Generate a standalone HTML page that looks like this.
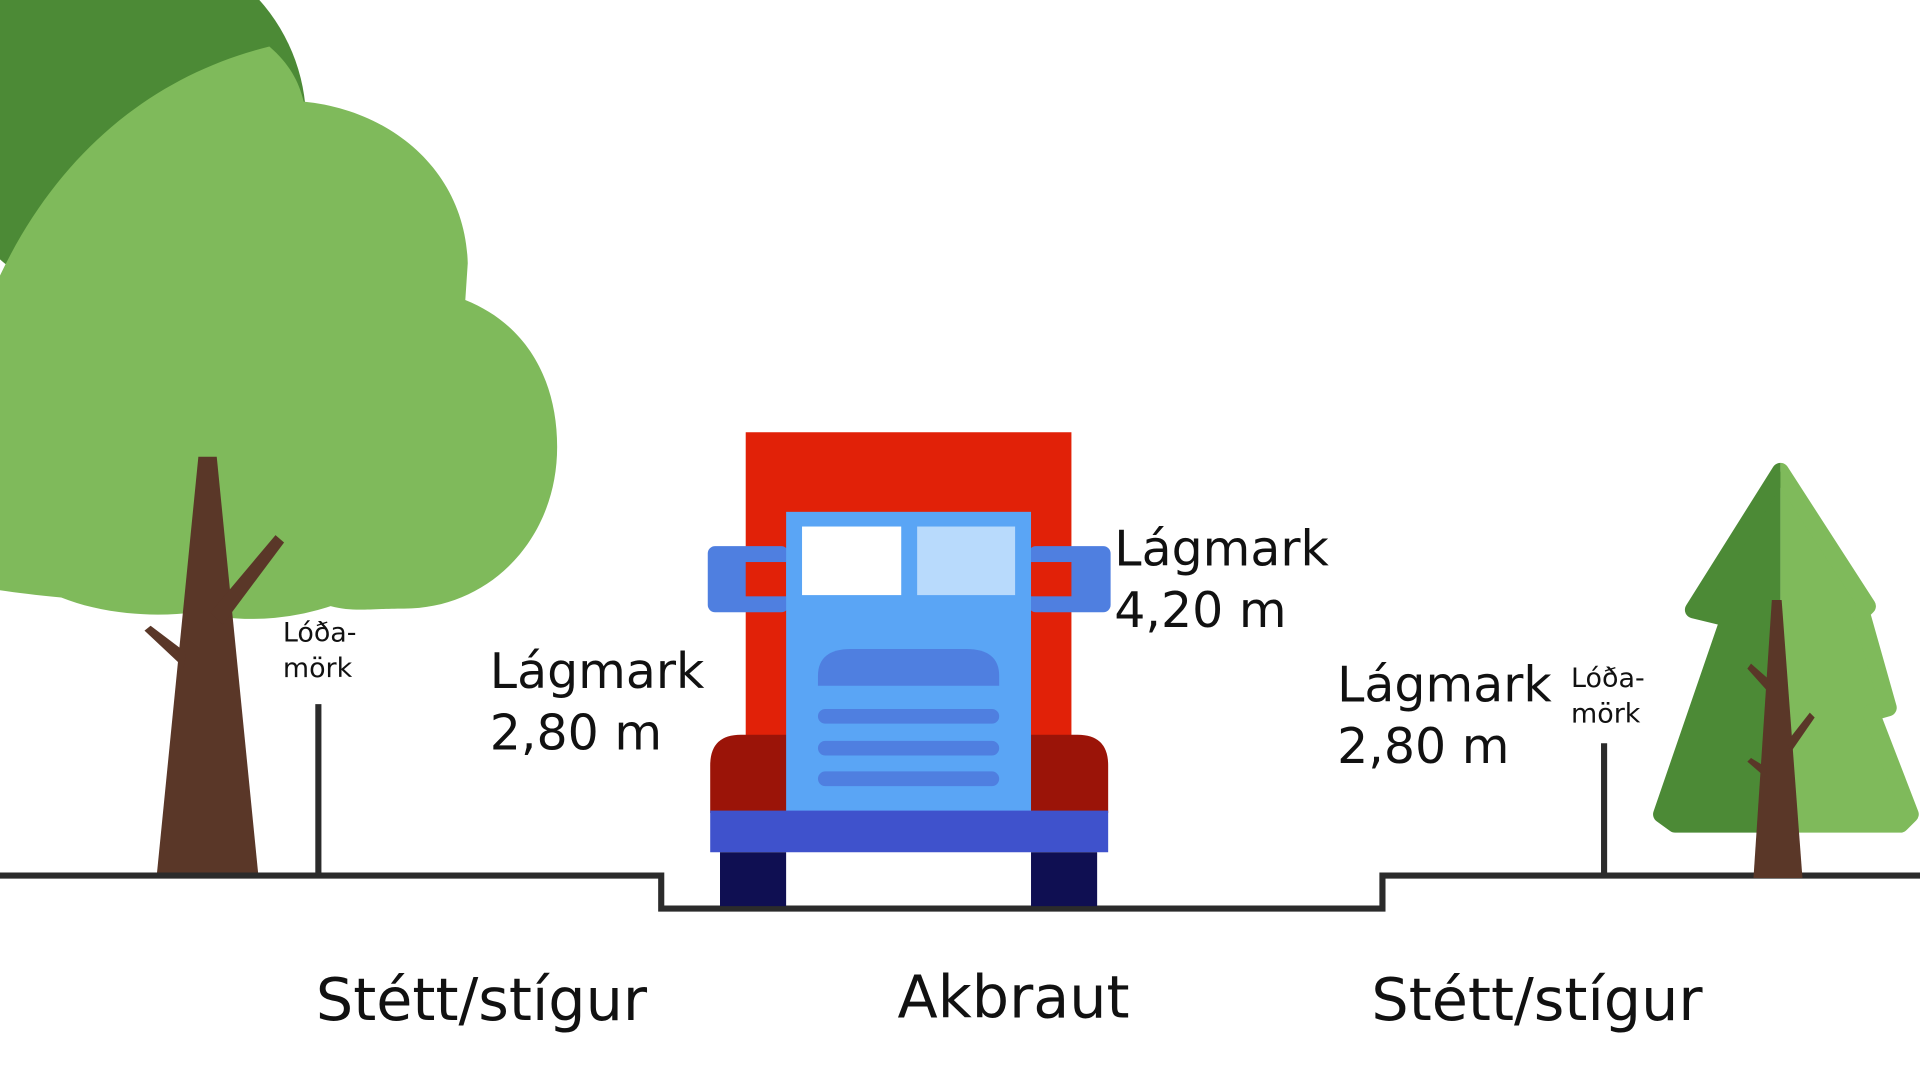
<!DOCTYPE html>
<html><head><meta charset="utf-8"><style>html,body{margin:0;padding:0;background:#fff;overflow:hidden}svg{display:block}</style></head>
<body>
<svg width="1920" height="1080" viewBox="0 0 1568 882" preserveAspectRatio="none" xmlns="http://www.w3.org/2000/svg" font-family="DejaVu Sans, sans-serif">
<rect width="1568" height="882" fill="#fff"/>
<!-- left tree -->
<circle cx="100" cy="100" r="150" fill="#4c8a36"/>
<path d="M0,225 C50,120 130,60 220,38 C236,52 244,66 248,83 C320,90 380,140 382,215 L380,245 C430,265 455,310 455,365 C455,440 400,497 330,497 C300,497 290,500 270,495 C240,505 200,510 160,500 C120,505 80,500 50,488 Q20,485 0,482 Z" fill="#7fba5b"/>
<g fill="#5a3728">
<polygon points="162,373 177,373 211,715 128,715"/>
<polygon points="172,500 225,437 232,443 182,510"/>
<polygon points="150,545 118,515 123,511 152,533"/>
</g>
<!-- road -->
<polyline points="0,715 540,715 540,742 1129,742 1129,715 1568,715" fill="none" stroke="#2b2b2b" stroke-width="5"/>
<line x1="260" y1="575" x2="260" y2="715" stroke="#2b2b2b" stroke-width="5"/>
<line x1="1310" y1="607" x2="1310" y2="715" stroke="#2b2b2b" stroke-width="5"/>
<!-- truck -->
<rect x="609" y="353" width="266" height="250" fill="#e12108"/>
<rect x="578" y="446" width="66" height="54" rx="6" fill="#4f7fe0"/>
<rect x="840" y="446" width="67" height="54" rx="6" fill="#4f7fe0"/>
<rect x="609" y="459" width="33" height="28" fill="#e12108"/>
<rect x="842" y="459" width="33" height="28" fill="#e12108"/>
<path d="M580,664 L580,625 Q580,600 605,600 L650,600 L650,664 Z" fill="#9b1408"/>
<path d="M835,664 L835,600 L880,600 Q905,600 905,625 L905,664 Z" fill="#9b1408"/>
<rect x="642" y="418" width="200" height="246" fill="#5aa5f5"/>
<rect x="655" y="430" width="81" height="56" fill="#fff"/>
<rect x="749" y="430" width="80" height="56" fill="#b8dafc"/>
<path d="M668,560 L668,552 Q668,530 695,530 L789,530 Q816,530 816,552 L816,560 Z" fill="#4f7fe0"/>
<rect x="668" y="579" width="148" height="12" rx="6" fill="#4f7fe0"/>
<rect x="668" y="605" width="148" height="12" rx="6" fill="#4f7fe0"/>
<rect x="668" y="630" width="148" height="12" rx="6" fill="#4f7fe0"/>
<rect x="580" y="662" width="325" height="34" fill="#3f52cc"/>
<rect x="588" y="696" width="54" height="44" fill="#0f0f52"/>
<rect x="842" y="696" width="54" height="44" fill="#0f0f52"/>
<!-- right tree -->
<clipPath id="l"><rect x="0" y="0" width="1454" height="882"/></clipPath>
<clipPath id="r"><rect x="1454" y="0" width="200" height="882"/></clipPath>
<g stroke-linejoin="round" stroke-width="14">
<polygon clip-path="url(#r)" points="1454,385 1383,498 1412,505 1357,665 1368,673 1552,673 1560,665 1528,582 1542,578 1520,500 1525,495" fill="#7fba5b" stroke="#7fba5b"/>
<polygon clip-path="url(#l)" points="1454,385 1383,498 1412,505 1357,665 1368,673 1552,673 1560,665 1528,582 1542,578 1520,500 1525,495" fill="#4c8a36" stroke="#4c8a36"/>
</g>
<g fill="#5a3728">
<polygon points="1447,490 1455,490 1472,717 1432,717"/>
<polygon points="1460,605 1478,582 1482,586 1462,615"/>
<polygon points="1444,565 1427,546 1430,542 1446,556"/>
<polygon points="1442,635 1427,622 1430,619 1443,627"/>
</g>
<!-- text -->
<g fill="#111">
<text x="400" y="562" font-size="40">Lágmark</text>
<text x="400" y="612" font-size="40">2,80 m</text>
<text x="910" y="462" font-size="40">Lágmark</text>
<text x="910" y="512" font-size="40">4,20 m</text>
<text x="1092" y="573" font-size="40">Lágmark</text>
<text x="1092" y="623" font-size="40">2,80 m</text>
<text x="231" y="524" font-size="22">Lóða-</text>
<text x="231" y="553" font-size="22">mörk</text>
<text x="1283" y="561" font-size="22">Lóða-</text>
<text x="1283" y="590" font-size="22">mörk</text>
<text x="258" y="833" font-size="48">Stétt/stígur</text>
<text x="733" y="831" font-size="48">Akbraut</text>
<text x="1120" y="833" font-size="48">Stétt/stígur</text>
</g>
</svg>
</body></html>
